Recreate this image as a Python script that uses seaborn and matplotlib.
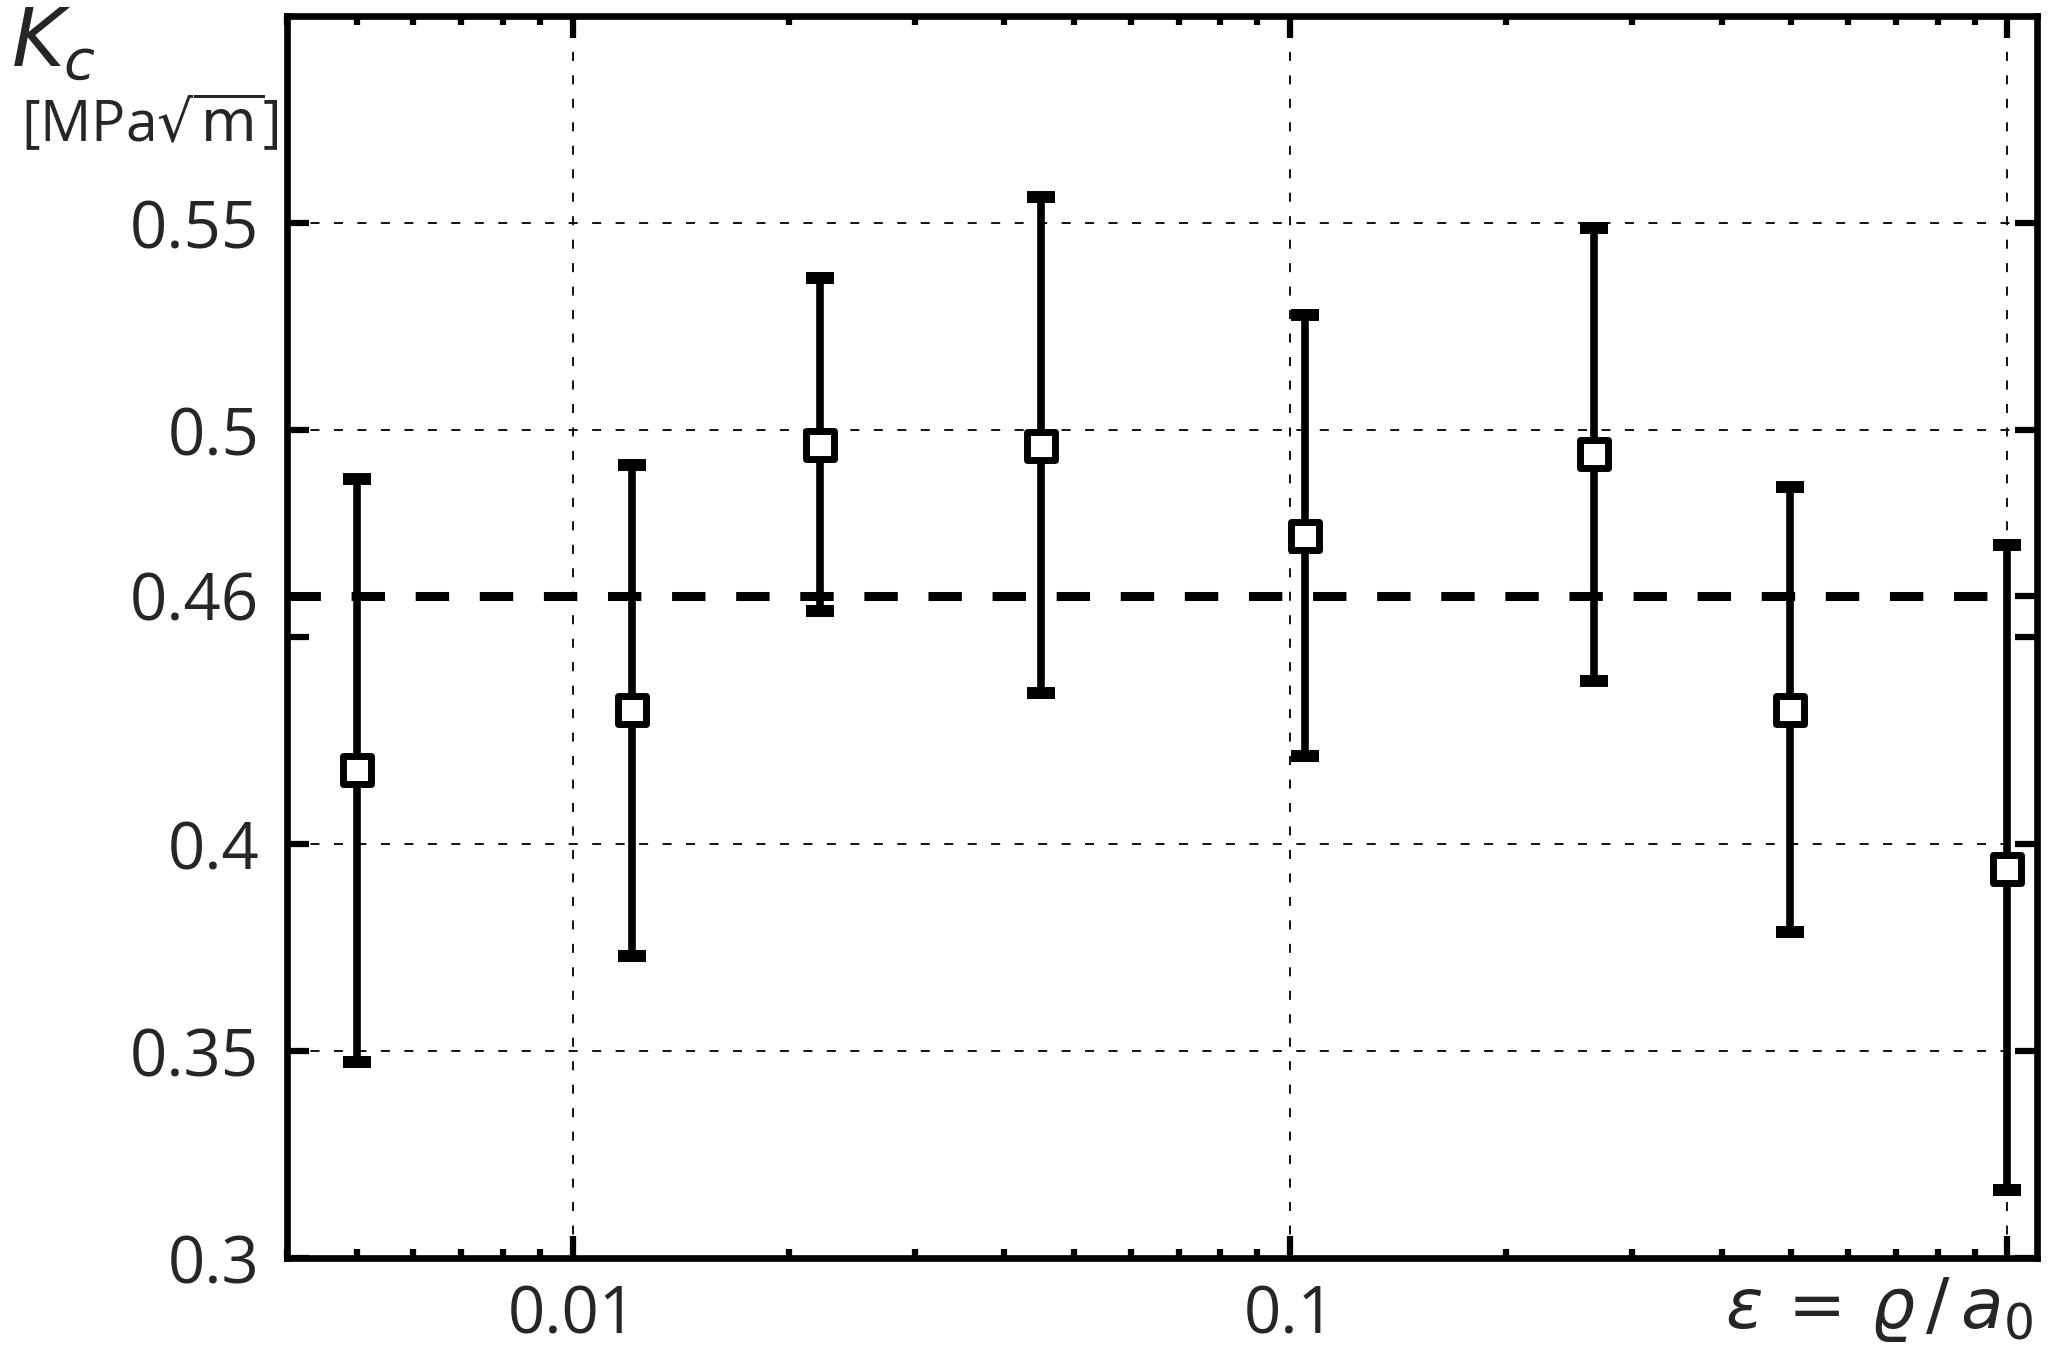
import numpy as np
import pandas as pd
import matplotlib
matplotlib.use("Agg")
import matplotlib.pyplot as plt
import matplotlib.ticker as mticker
import seaborn as sns

# Data
eps = [0.005, 0.0121, 0.0221, 0.045, 0.105, 0.2655, 0.498, 1.0]
kc = [0.4178, 0.4323, 0.4964, 0.4961, 0.4745, 0.4942, 0.4323, 0.3939]
kc_low = [0.3474, 0.373, 0.4564, 0.4364, 0.4212, 0.4393, 0.3787, 0.3165]
kc_high = [0.4881, 0.4916, 0.5367, 0.5563, 0.5278, 0.5487, 0.4862, 0.4723]
kc_ref = 0.46

y_ticks = [0.3, 0.35, 0.4, 0.45, 0.46, 0.5, 0.55]
y_labels = ["0.3", "0.35", "0.4", "", "0.46", "0.5", "0.55"]
x_ticks = [0.01, 0.1, 1.0]
x_labels = ["0.01", "0.1", ""]
grid_x = [0.01, 0.1, 1.0]
grid_y = [0.35, 0.4, 0.5, 0.55]

df = pd.DataFrame({"eps": eps, "kc": kc, "low": kc_low, "high": kc_high})
yerr = [df["kc"] - df["low"], df["high"] - df["kc"]]

sns.set_style("ticks")
plt.rcParams["font.family"] = ["Open Sans", "DejaVu Sans"]
plt.rcParams["mathtext.fontset"] = "dejavusans"

fig = plt.figure(figsize=(20.65, 13.67), dpi=100)
ax = fig.add_axes([0.139, 0.0797, 0.8475, 0.9086])

# dotted grid
for gx in grid_x:
    ax.axvline(gx, color="black", lw=1.3, dashes=(5, 8), zorder=1)
for gy in grid_y:
    ax.axhline(gy, color="black", lw=1.3, dashes=(5, 8), zorder=1)

# reference value
ax.hlines(kc_ref, 0.004, 1.0, color="black", lw=6.5, linestyles=(0, (3.7, 3.4)), zorder=2)

ax.errorbar(df["eps"], df["kc"], yerr=yerr, fmt="none", ecolor="black",
            elinewidth=5.5, capsize=10, capthick=8.6, zorder=3)
sns.scatterplot(data=df, x="eps", y="kc", marker="s", s=380, color="white",
                edgecolor="black", linewidth=5, zorder=5, legend=False, ax=ax)

ax.set_xscale("log")
ax.set_xlim(0.004, 1.1)
ax.set_ylim(0.3, 0.6)
ax.set_xticks(x_ticks)
ax.set_xticklabels(x_labels)
ax.xaxis.set_minor_locator(mticker.LogLocator(base=10, subs=np.arange(2, 10)))
ax.xaxis.set_minor_formatter(mticker.NullFormatter())
ax.set_yticks(y_ticks)
ax.set_yticklabels(y_labels)
ax.yaxis.get_major_ticks()[4].tick2line.set_visible(False)

ax.tick_params(which="both", direction="in", top=True, right=True, width=4.5, color="black")
ax.tick_params(which="major", length=16)
ax.tick_params(which="minor", length=6.5)
ax.tick_params(axis="y", labelsize=47, pad=20)
ax.tick_params(axis="x", labelsize=47, pad=18)
for sp in ax.spines.values():
    sp.set_linewidth(4.8)
    sp.set_color("black")
ax.set_xlabel("")
ax.set_ylabel("")

fig.text(0.0053, 0.951, r"$K_c$", fontsize=58, va="baseline", ha="left")
fig.text(0.01, 0.896, r"[MPa$\sqrt{\mathrm{m}}$]", fontsize=41, va="baseline", ha="left")
fig.text(0.9845, 0.0285, r"$\varepsilon\,=\,\varrho\,/\,a_0$", fontsize=50,
         va="baseline", ha="right")

fig.savefig("out.png", dpi=100)
